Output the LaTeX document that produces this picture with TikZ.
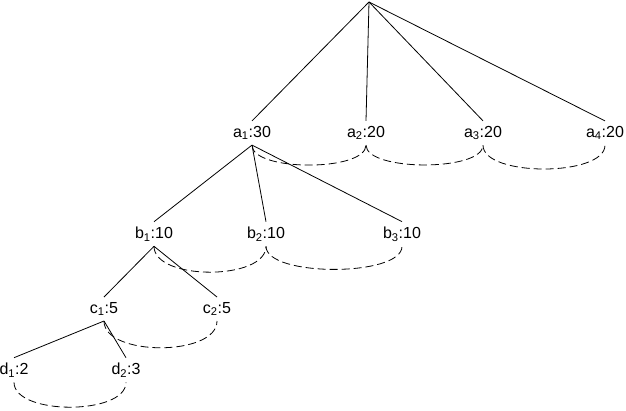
\documentclass[tikz,border=0pt]{standalone}
\usepackage{fontspec}
\setmainfont{Liberation Sans}

\begin{document}
\begin{tikzpicture}[x=1pt, y=1pt, every node/.style={font=\fontsize{16}{19}\selectfont, inner xsep=1pt, inner ysep=5pt}]
    \tikzset{TreeEdge/.style = {line width=0.8pt},
      SibEdge/.style = {line width=0.8pt, dash pattern=on 8pt off 4pt}}
    \useasboundingbox (0,0) rectangle (626,-410);
    \coordinate (R) at (369,-2);
    \node (a1) at (252,-133) {a\textsubscript{1}:30};
    \node (a2) at (366,-133) {a\textsubscript{2}:20};
    \node (a3) at (483,-133) {a\textsubscript{3}:20};
    \node (a4) at (605,-133) {a\textsubscript{4}:20};
    \node (b1) at (154,-234) {b\textsubscript{1}:10};
    \node (b2) at (266,-234) {b\textsubscript{2}:10};
    \node (b3) at (402,-234) {b\textsubscript{3}:10};
    \node (c1) at (104,-309) {c\textsubscript{1}:5};
    \node (c2) at (217,-309) {c\textsubscript{2}:5};
    \node (d1) at (14,-370) {d\textsubscript{1}:2};
    \node (d2) at (126,-370) {d\textsubscript{2}:3};
    % tree
    \draw[TreeEdge] (R) -- (a1.north);
    \draw[TreeEdge] (R) -- (a2.north);
    \draw[TreeEdge] (R) -- (a3.north);
    \draw[TreeEdge] (R) -- (a4.north);
    \draw[TreeEdge] (a1.south) -- (b1.north);
    \draw[TreeEdge] (a1.south) -- (b2.north);
    \draw[TreeEdge] (a1.south) -- (b3.north);
    \draw[TreeEdge] (b1.south) -- (c1.north);
    \draw[TreeEdge] (b1.south) -- (c2.north);
    \draw[TreeEdge] (c1.south) -- (d1.north);
    \draw[TreeEdge] (c1.south) -- (d2.north);
    % siblings
    \draw[SibEdge] (a1.south) to[out=-90, in=-90, looseness=0.6] (a2.south);
    \draw[SibEdge] (a2.south) to[out=-90, in=-90, looseness=0.58] (a3.south);
    \draw[SibEdge] (a3.south) to[out=-90, in=-90, looseness=0.67] (a4.south);
    \draw[SibEdge] (b1.south) to[out=-90, in=-90, looseness=0.79] (b2.south);
    \draw[SibEdge] (b2.south) to[out=-90, in=-90, looseness=0.58] (b3.south);
    \draw[SibEdge] (c1.south) to[out=-90, in=-90, looseness=0.81] (c2.south);
    \draw[SibEdge] (d1.south) to[out=-90, in=-90, looseness=0.76] (d2.south);
\end{tikzpicture}
\end{document}
